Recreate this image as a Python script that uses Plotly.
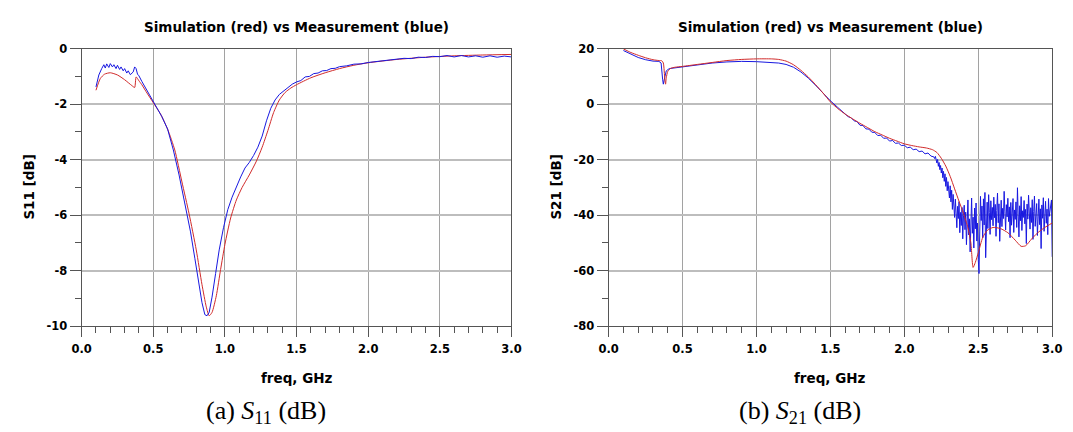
import numpy as np
import plotly.graph_objects as go

# ---------------- S11 data (GHz, dB) ----------------
s11_sim_f = [0.10, 0.13, 0.16, 0.20, 0.25, 0.30, 0.35, 0.37, 0.38, 0.39, 0.40, 0.42, 0.45,
             0.50, 0.55, 0.60, 0.65, 0.70, 0.75, 0.80, 0.84, 0.87, 0.89, 0.91, 0.94, 0.97,
             1.00, 1.04, 1.08, 1.12, 1.17, 1.22, 1.26, 1.30, 1.34, 1.38, 1.42, 1.46, 1.50,
             1.60, 1.70, 1.80, 1.90, 2.00, 2.20, 2.40, 2.60, 2.80, 3.00]
s11_sim_db = [-1.50, -1.08, -0.92, -0.87, -0.95, -1.12, -1.33, -1.40, -1.02, -1.08, -1.16, -1.30, -1.55,
              -1.95, -2.35, -2.90, -3.65, -4.80, -5.95, -7.25, -8.50, -9.30, -9.62, -9.50, -8.90, -7.95,
              -7.05, -6.10, -5.45, -5.00, -4.55, -4.05, -3.55, -2.95, -2.30, -1.85, -1.58, -1.42, -1.30,
              -1.05, -0.87, -0.72, -0.60, -0.51, -0.39, -0.31, -0.26, -0.23, -0.21]

s11_meas_f = [0.10, 0.12, 0.14, 0.155, 0.165, 0.175, 0.19, 0.20, 0.215, 0.225, 0.24, 0.25, 0.265,
              0.275, 0.29, 0.30, 0.315, 0.325, 0.34, 0.35, 0.36, 0.37, 0.38, 0.39, 0.40, 0.42,
              0.44, 0.46, 0.48, 0.50, 0.53, 0.56, 0.60, 0.64, 0.68, 0.72, 0.76, 0.79, 0.82,
              0.84, 0.86, 0.875, 0.89, 0.91, 0.935, 0.96, 0.99, 1.02, 1.05, 1.08, 1.11, 1.14,
              1.17, 1.20, 1.23, 1.26, 1.29, 1.32, 1.35, 1.38, 1.41, 1.44, 1.47, 1.50, 1.53,
              1.56, 1.59, 1.62, 1.65, 1.68, 1.71, 1.74, 1.77, 1.80, 1.85, 1.90, 1.95, 2.00,
              2.05, 2.10, 2.15, 2.20, 2.25, 2.30, 2.35, 2.40, 2.45, 2.50, 2.55, 2.60, 2.65,
              2.70, 2.75, 2.80, 2.85, 2.90, 2.95, 3.00]
s11_meas_db = [-1.38, -0.95, -0.72, -0.58, -0.70, -0.55, -0.68, -0.54, -0.66, -0.58, -0.72, -0.60, -0.75,
               -0.66, -0.80, -0.72, -0.88, -0.80, -0.94, -0.88, -0.84, -0.66, -0.72, -0.92, -0.98, -1.18,
               -1.36, -1.55, -1.72, -1.90, -2.15, -2.45, -2.90, -3.65, -4.55, -5.55, -6.60, -7.55, -8.55,
               -9.15, -9.58, -9.62, -9.50, -8.95, -8.10, -7.25, -6.45, -5.80, -5.35, -4.95, -4.62, -4.30,
               -4.10, -3.85, -3.55, -3.15, -2.60, -2.15, -1.85, -1.65, -1.52, -1.40, -1.28, -1.20, -1.15,
               -1.02, -1.00, -0.90, -0.88, -0.80, -0.79, -0.72, -0.71, -0.65, -0.62, -0.56, -0.55, -0.50,
               -0.47, -0.46, -0.41, -0.40, -0.35, -0.36, -0.31, -0.32, -0.28, -0.29, -0.25, -0.30, -0.25,
               -0.30, -0.26, -0.31, -0.26, -0.31, -0.27, -0.30]

# ---------------- S21 data (GHz, dB) ----------------
s21_sim_f = [0.10, 0.15, 0.20, 0.25, 0.30, 0.34, 0.36, 0.37, 0.38, 0.385, 0.39, 0.40, 0.42, 0.45,
             0.50, 0.60, 0.70, 0.80, 0.90, 1.00, 1.10, 1.15, 1.20, 1.25, 1.30, 1.35, 1.40, 1.45,
             1.50, 1.55, 1.60, 1.65, 1.70, 1.75, 1.80, 1.85, 1.90, 1.95, 2.00, 2.05, 2.10, 2.15,
             2.19, 2.22, 2.25, 2.28, 2.31, 2.34, 2.37, 2.40, 2.43, 2.45, 2.465, 2.48, 2.50, 2.53,
             2.56, 2.60, 2.65, 2.70, 2.75, 2.79, 2.82, 2.86, 2.90, 2.95, 3.00]
s21_sim_db = [19.9, 18.6, 17.6, 16.7, 16.0, 15.7, 15.6, 14.8, 9.0, 7.2, 9.5, 11.8, 12.9, 13.3,
              13.6, 14.3, 15.0, 15.7, 16.1, 16.3, 16.3, 16.1, 15.5, 14.2, 12.2, 9.8, 7.0, 4.0,
              0.8, -1.6, -3.6, -5.3, -6.9, -8.4, -9.9, -11.1, -12.3, -13.3, -14.3, -14.9, -15.4, -15.8,
              -16.4, -17.4, -19.5, -22.3, -26.0, -30.5, -35.0, -39.3, -44.5, -50.0, -58.8, -57.0, -53.5, -48.0,
              -45.5, -44.4, -44.8, -46.3, -49.0, -51.2, -51.0, -48.6, -46.4, -44.4, -42.8]

s21_meas_f = [0.10, 0.15, 0.20, 0.25, 0.30, 0.34, 0.355, 0.365, 0.37, 0.38, 0.39, 0.41, 0.45,
              0.50, 0.60, 0.70, 0.80, 0.90, 1.00, 1.10, 1.15, 1.20, 1.25, 1.30, 1.35, 1.40,
              1.45, 1.50, 1.55, 1.60, 1.62, 1.64, 1.66, 1.68, 1.70, 1.72, 1.74, 1.76, 1.78,
              1.80, 1.82, 1.84, 1.86, 1.88, 1.90, 1.92, 1.94, 1.96, 1.98, 2.00, 2.02, 2.04,
              2.06, 2.08, 2.10, 2.12, 2.14, 2.16, 2.18, 2.20]
s21_meas_db = [19.3, 17.9, 16.8, 16.0, 15.5, 15.4, 14.8, 9.0, 7.2, 9.8, 12.0, 12.8, 13.1,
               13.5, 14.2, 14.8, 15.2, 15.4, 15.3, 15.0, 14.8, 14.3, 13.3, 11.6, 9.4, 6.8,
               4.0, 1.2, -1.2, -3.4, -4.5, -4.9, -6.0, -6.3, -7.6, -7.7, -8.9, -9.0, -10.1,
               -10.2, -11.3, -11.2, -12.3, -12.2, -13.3, -13.1, -14.1, -14.0, -14.9, -14.8, -15.7, -15.5,
               -16.4, -16.2, -17.1, -16.9, -17.9, -17.6, -18.7, -19.0]

# measured S21 above 2.2 GHz, sampled every 5 MHz starting at 2.205 GHz
s21_noise_start = 2.205
s21_noise_step = 0.005
s21_noise_db = [
    -19.6, -18.8, -20.5, -21.2, -19.9, -22.4, -21.0, -23.6, -22.1, -24.8,
    -23.0, -26.5, -24.2, -27.8, -25.1, -29.6, -26.4, -31.2, -27.9, -30.3,
    -33.8, -29.4, -35.2, -31.0, -37.9, -32.5, -36.0, -40.8, -34.2, -38.6,
    -44.5, -36.8, -41.2, -35.1, -46.3, -39.0, -43.7, -37.2, -48.5, -40.1,
    -36.4, -45.2, -38.9, -50.6, -42.0, -34.5, -47.1, -41.3, -53.2, -39.6,
    -33.8, -46.5, -40.7, -51.8, -37.4, -44.9, -35.6, -49.3, -42.8, -56.0,
    -61.0, -45.7, -33.2, -41.9, -36.7, -48.2, -34.1, -43.5, -31.8, -55.3,
    -40.2, -35.3, -44.8, -32.6, -39.1, -46.9, -34.8, -41.6, -37.2, -43.8,
    -33.5, -40.9, -36.1, -47.6, -38.3, -32.0, -42.7, -35.9, -49.4, -39.8,
    -34.6, -44.1, -37.5, -41.2, -31.4, -38.8, -45.3, -36.2, -40.6, -33.9,
    -42.3, -37.0, -48.1, -35.4, -43.6, -39.2, -34.0, -46.2, -38.1, -41.5,
    -35.2, -44.4, -30.1, -39.7, -47.8, -36.6, -42.0, -33.3, -45.5, -38.4,
    -40.8, -34.7, -43.1, -37.9, -50.2, -36.0, -41.4, -32.8, -39.5, -45.0,
    -37.3, -42.6, -34.4, -48.7, -38.6, -33.1, -44.0, -40.2, -35.8, -47.3,
    -39.0, -34.2, -43.4, -37.7, -52.0, -36.3, -41.1, -33.7, -45.8, -38.5,
    -35.0, -42.9, -37.8, -47.0, -34.0, -40.4, -38.5, -36.9, -34.5, -55.0,
]

x_ticks = [0.0, 0.5, 1.0, 1.5, 2.0, 2.5, 3.0]
s11_yticks = [0, -2, -4, -6, -8, -10]
s21_yticks = [20, 0, -20, -40, -60, -80]
plot_title = "Simulation (red) vs Measurement (blue)"
y_titles = ["S11 [dB]", "S21 [dB]"]
captions = ["(a) <i>S</i><sub>11</sub> (dB)", "(b) <i>S</i><sub>21</sub> (dB)"]

RED = "#d02a2a"
BLUE = "#1818e0"
VGRID = "#a2a2a2"
HGRID = "#bdbdbd"
AXIS = "#555555"
SANS = "DejaVu Sans, Verdana, sans-serif"
SERIF = "Liberation Serif, Times New Roman, serif"

noise_f = s21_noise_start + s21_noise_step * np.arange(len(s21_noise_db))
s21_meas_all_f = np.concatenate([s21_meas_f, noise_f])
s21_meas_all_db = np.concatenate([s21_meas_db, s21_noise_db])

W, H = 1073, 432
fig = go.Figure()

fig.add_trace(go.Scatter(x=s11_sim_f, y=s11_sim_db, mode="lines",
                         line=dict(color=RED, width=1, shape="spline", smoothing=0.6),
                         xaxis="x", yaxis="y", showlegend=False))
fig.add_trace(go.Scatter(x=s11_meas_f, y=s11_meas_db, mode="lines", line=dict(color=BLUE, width=1),
                         xaxis="x", yaxis="y", showlegend=False))
fig.add_trace(go.Scatter(x=s21_meas_all_f, y=s21_meas_all_db, mode="lines", line=dict(color=BLUE, width=1),
                         xaxis="x2", yaxis="y2", showlegend=False))
fig.add_trace(go.Scatter(x=s21_sim_f, y=s21_sim_db, mode="lines",
                         line=dict(color=RED, width=1, shape="spline", smoothing=0.6),
                         xaxis="x2", yaxis="y2", showlegend=False))

# plot areas in pixels: left 73..511, right 610..1062, top 43, bottom 330
ydom = [(H - 330) / H, (H - 43) / H]
xdoms = [[73 / W, 511 / W], [610 / W, 1062 / W]]

tickfont = dict(family=SANS, size=11.5, color="black", weight="bold")


def xaxis_cfg(dom, anchor):
    return dict(domain=dom, anchor=anchor, range=[0, 3], tickvals=x_ticks,
                ticktext=[f"{v:.1f}" for v in x_ticks], ticklabelstandoff=2,
                showgrid=True, gridcolor=VGRID, gridwidth=1, zeroline=False,
                showline=True, linecolor=AXIS, linewidth=1.2, mirror=True,
                ticks="outside", ticklen=10, tickwidth=1, tickcolor=AXIS, tickfont=tickfont,
                minor=dict(dtick=0.1, ticks="outside", ticklen=6, tickwidth=1, tickcolor=AXIS, showgrid=False))


def yaxis_cfg(anchor, ticks, step):
    return dict(domain=ydom, anchor=anchor, range=[min(ticks), max(ticks)], tickvals=ticks,
                ticktext=[str(v) for v in ticks],
                showgrid=True, gridcolor=HGRID, gridwidth=2, zeroline=False,
                showline=True, linecolor=AXIS, linewidth=1.2, mirror=True,
                ticks="outside", ticklen=11, tickwidth=1, tickcolor=AXIS, tickfont=tickfont,
                minor=dict(dtick=step / 2, ticks="outside", ticklen=6, tickwidth=1, tickcolor=AXIS, showgrid=False))


label_font = dict(family=SANS, size=13.5, color="black", weight="bold")
annotations = []
for i, dom in enumerate(xdoms):
    cx = (dom[0] + dom[1]) / 2
    common = dict(xref="paper", yref="paper", showarrow=False, xanchor="center", yanchor="middle")
    annotations.append(dict(text=plot_title, x=cx, y=(H - 21) / H, font=label_font, **common))
    annotations.append(dict(text="freq, GHz", x=cx, y=(H - 383) / H, font=label_font, **common))
    annotations.append(dict(text=y_titles[i], x=(19 + 537 * i) / W, y=(H - 186) / H,
                            textangle=-90, font=label_font, **common))
    annotations.append(dict(text=captions[i], x=cx - 31 / W, y=(H - 419) / H,
                            font=dict(family=SERIF, size=26, color="black"), **common))

fig.update_layout(
    width=W, height=H,
    margin=dict(l=0, r=0, t=0, b=0),
    paper_bgcolor="white", plot_bgcolor="white",
    xaxis=xaxis_cfg(xdoms[0], "y"),
    yaxis=yaxis_cfg("x", s11_yticks, 2),
    xaxis2=xaxis_cfg(xdoms[1], "y2"),
    yaxis2=yaxis_cfg("x2", s21_yticks, 20),
    annotations=annotations,
)

fig.write_html("out.html")
